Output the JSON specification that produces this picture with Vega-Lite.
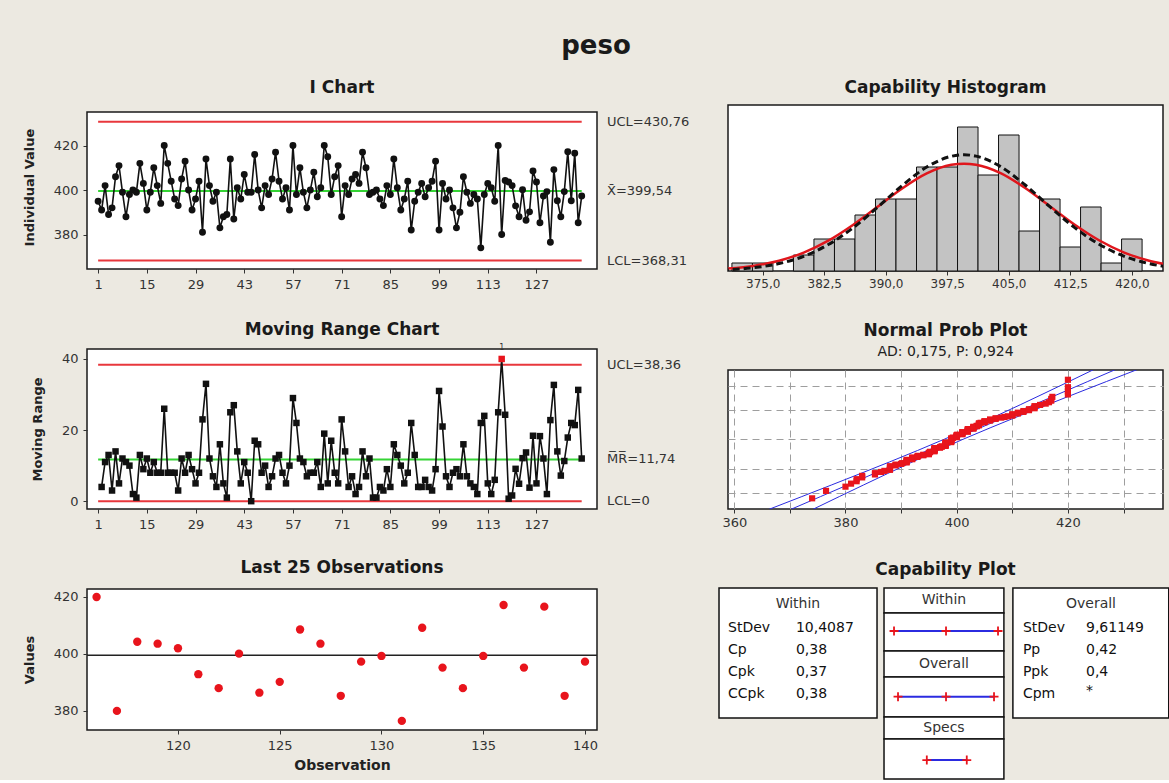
{
  "$schema": "https://vega.github.io/schema/vega-lite/v6.json",
  "background": "#ECE9E1",
  "padding": {"left": 22, "top": 33, "right": 0, "bottom": 0},
  "title": {"text": "peso", "fontSize": 26, "offset": 19, "anchor": "middle"},
  "datasets": {
    "main": [
      {"obs":1,"value":395,"mr":null},{"obs":2,"value":391,"mr":4},{"obs":3,"value":402,"mr":11},{"obs":4,"value":389,"mr":13},{"obs":5,"value":392,"mr":3},
      {"obs":6,"value":406,"mr":14},{"obs":7,"value":411,"mr":5},{"obs":8,"value":399,"mr":12},{"obs":9,"value":388,"mr":11},{"obs":10,"value":398,"mr":10},
      {"obs":11,"value":400,"mr":2},{"obs":12,"value":399,"mr":1},{"obs":13,"value":412,"mr":13},{"obs":14,"value":403,"mr":9},{"obs":15,"value":391,"mr":12},
      {"obs":16,"value":399,"mr":8},{"obs":17,"value":410,"mr":11},{"obs":18,"value":402,"mr":8},{"obs":19,"value":394,"mr":8},{"obs":20,"value":420,"mr":26},
      {"obs":21,"value":412,"mr":8},{"obs":22,"value":404,"mr":8},{"obs":23,"value":396,"mr":8},{"obs":24,"value":393,"mr":3},{"obs":25,"value":405,"mr":12},
      {"obs":26,"value":413,"mr":8},{"obs":27,"value":400,"mr":13},{"obs":28,"value":391,"mr":9},{"obs":29,"value":396,"mr":5},{"obs":30,"value":404,"mr":8},
      {"obs":31,"value":381,"mr":23},{"obs":32,"value":414,"mr":33},{"obs":33,"value":402,"mr":12},{"obs":34,"value":395,"mr":7},{"obs":35,"value":399,"mr":4},
      {"obs":36,"value":383,"mr":16},{"obs":37,"value":388,"mr":5},{"obs":38,"value":389,"mr":1},{"obs":39,"value":414,"mr":25},{"obs":40,"value":387,"mr":27},
      {"obs":41,"value":401,"mr":14},{"obs":42,"value":396,"mr":5},{"obs":43,"value":407,"mr":11},{"obs":44,"value":399,"mr":8},{"obs":45,"value":399,"mr":0},
      {"obs":46,"value":416,"mr":17},{"obs":47,"value":400,"mr":16},{"obs":48,"value":392,"mr":8},{"obs":49,"value":402,"mr":10},{"obs":50,"value":398,"mr":4},
      {"obs":51,"value":405,"mr":7},{"obs":52,"value":417,"mr":12},{"obs":53,"value":404,"mr":13},{"obs":54,"value":396,"mr":8},{"obs":55,"value":401,"mr":5},
      {"obs":56,"value":391,"mr":10},{"obs":57,"value":420,"mr":29},{"obs":58,"value":398,"mr":22},{"obs":59,"value":410,"mr":12},{"obs":60,"value":399,"mr":11},
      {"obs":61,"value":392,"mr":7},{"obs":62,"value":400,"mr":8},{"obs":63,"value":408,"mr":8},{"obs":64,"value":397,"mr":11},{"obs":65,"value":401,"mr":4},
      {"obs":66,"value":420,"mr":19},{"obs":67,"value":415,"mr":5},{"obs":68,"value":398,"mr":17},{"obs":69,"value":406,"mr":8},{"obs":70,"value":411,"mr":5},
      {"obs":71,"value":388,"mr":23},{"obs":72,"value":402,"mr":14},{"obs":73,"value":398,"mr":4},{"obs":74,"value":405,"mr":7},{"obs":75,"value":407,"mr":2},
      {"obs":76,"value":403,"mr":4},{"obs":77,"value":417,"mr":14},{"obs":78,"value":410,"mr":7},{"obs":79,"value":398,"mr":12},{"obs":80,"value":399,"mr":1},
      {"obs":81,"value":400,"mr":1},{"obs":82,"value":396,"mr":4},{"obs":83,"value":393,"mr":3},{"obs":84,"value":402,"mr":9},{"obs":85,"value":398,"mr":4},
      {"obs":86,"value":414,"mr":16},{"obs":87,"value":401,"mr":13},{"obs":88,"value":391,"mr":10},{"obs":89,"value":396,"mr":5},{"obs":90,"value":404,"mr":8},
      {"obs":91,"value":382,"mr":22},{"obs":92,"value":395,"mr":13},{"obs":93,"value":399,"mr":4},{"obs":94,"value":403,"mr":4},{"obs":95,"value":397,"mr":6},
      {"obs":96,"value":401,"mr":4},{"obs":97,"value":404,"mr":3},{"obs":98,"value":413,"mr":9},{"obs":99,"value":382,"mr":31},{"obs":100,"value":403,"mr":21},
      {"obs":101,"value":396,"mr":7},{"obs":102,"value":400,"mr":4},{"obs":103,"value":392,"mr":8},{"obs":104,"value":383,"mr":9},{"obs":105,"value":390,"mr":7},
      {"obs":106,"value":406,"mr":16},{"obs":107,"value":399,"mr":7},{"obs":108,"value":394,"mr":5},{"obs":109,"value":398,"mr":4},{"obs":110,"value":396,"mr":2},
      {"obs":111,"value":374,"mr":22},{"obs":112,"value":398,"mr":24},{"obs":113,"value":403,"mr":5},{"obs":114,"value":401,"mr":2},{"obs":115,"value":395,"mr":6},
      {"obs":116,"value":420,"mr":25},{"obs":117,"value":380,"mr":40},{"obs":118,"value":404.3,"mr":24.3},{"obs":119,"value":403.6,"mr":0.7},{"obs":120,"value":402,"mr":1.6},
      {"obs":121,"value":392.9,"mr":9.1},{"obs":122,"value":388,"mr":4.9},{"obs":123,"value":400.1,"mr":12.1},{"obs":124,"value":386.4,"mr":13.7},{"obs":125,"value":390.2,"mr":3.8},
      {"obs":126,"value":408.6,"mr":18.4},{"obs":127,"value":403.6,"mr":5},{"obs":128,"value":385.3,"mr":18.3},{"obs":129,"value":397.3,"mr":12},{"obs":130,"value":399.3,"mr":2},
      {"obs":131,"value":376.5,"mr":22.8},{"obs":132,"value":409.2,"mr":32.7},{"obs":133,"value":395.2,"mr":14},{"obs":134,"value":388,"mr":7.2},{"obs":135,"value":399.3,"mr":11.3},
      {"obs":136,"value":417.2,"mr":17.9},{"obs":137,"value":395.2,"mr":22},{"obs":138,"value":416.6,"mr":21.4},{"obs":139,"value":385.3,"mr":31.3},{"obs":140,"value":397.3,"mr":12}
    ],
    "limits": [
      {"chart":"I","kind":"limit","y":430.76,"label":"UCL=430,76"},
      {"chart":"I","kind":"center","y":399.54,"label":"X\u0304=399,54"},
      {"chart":"I","kind":"limit","y":368.31,"label":"LCL=368,31"},
      {"chart":"MR","kind":"limit","y":38.36,"label":"UCL=38,36"},
      {"chart":"MR","kind":"center","y":11.74,"label":"M\u0305R\u0305=11,74"},
      {"chart":"MR","kind":"limit","y":0,"label":"LCL=0"},
      {"chart":"L","kind":"center","y":399.54,"label":""}
    ],
    "hist": [
      {"lo":371.25,"hi":373.75,"n":1},{"lo":373.75,"hi":376.25,"n":1},{"lo":378.75,"hi":381.25,"n":2},
      {"lo":381.25,"hi":383.75,"n":4},{"lo":383.75,"hi":386.25,"n":4},{"lo":386.25,"hi":388.75,"n":7},
      {"lo":388.75,"hi":391.25,"n":9},{"lo":391.25,"hi":393.75,"n":9},{"lo":393.75,"hi":396.25,"n":13},
      {"lo":396.25,"hi":398.75,"n":13},{"lo":398.75,"hi":401.25,"n":18},{"lo":401.25,"hi":403.75,"n":12},
      {"lo":403.75,"hi":406.25,"n":17},{"lo":406.25,"hi":408.75,"n":5},{"lo":408.75,"hi":411.25,"n":9},
      {"lo":411.25,"hi":413.75,"n":3},{"lo":413.75,"hi":416.25,"n":8},{"lo":416.25,"hi":418.75,"n":1},
      {"lo":418.75,"hi":421.25,"n":4}
    ],
    "curves": [
      {"fit":"Within","x":370,"y":0.239},{"fit":"Within","x":374,"y":0.661},{"fit":"Within","x":377,"y":1.286},{"fit":"Within","x":380,"y":2.303},
      {"fit":"Within","x":383,"y":3.795},{"fit":"Within","x":386,"y":5.757},{"fit":"Within","x":389,"y":8.034},{"fit":"Within","x":392,"y":10.319},
      {"fit":"Within","x":395,"y":12.198},{"fit":"Within","x":398,"y":13.269},{"fit":"Within","x":399.54,"y":13.415},{"fit":"Within","x":401,"y":13.284},
      {"fit":"Within","x":404,"y":12.239},{"fit":"Within","x":407,"y":10.377},{"fit":"Within","x":410,"y":8.097},{"fit":"Within","x":413,"y":5.814},
      {"fit":"Within","x":416,"y":3.842},{"fit":"Within","x":419,"y":2.337},{"fit":"Within","x":422,"y":1.308},{"fit":"Within","x":424,"y":0.848},
      {"fit":"Overall","x":370,"y":0.129},{"fit":"Overall","x":374,"y":0.425},{"fit":"Overall","x":377,"y":0.929},{"fit":"Overall","x":380,"y":1.839},
      {"fit":"Overall","x":383,"y":3.305},{"fit":"Overall","x":386,"y":5.385},{"fit":"Overall","x":389,"y":7.962},{"fit":"Overall","x":392,"y":10.68},
      {"fit":"Overall","x":395,"y":12.993},{"fit":"Overall","x":398,"y":14.342},{"fit":"Overall","x":399.54,"y":14.527},{"fit":"Overall","x":401,"y":14.36},
      {"fit":"Overall","x":404,"y":13.044},{"fit":"Overall","x":407,"y":10.749},{"fit":"Overall","x":410,"y":8.035},{"fit":"Overall","x":413,"y":5.449},
      {"fit":"Overall","x":416,"y":3.353},{"fit":"Overall","x":419,"y":1.871},{"fit":"Overall","x":422,"y":0.947},{"fit":"Overall","x":424,"y":0.57}
    ],
    "problines": [
      {"band":"lo","z":-3.2,"v":364.69},{"band":"lo","z":-2.5,"v":372.15},{"band":"lo","z":-2,"v":377.44},{"band":"lo","z":-1.5,"v":382.69},{"band":"lo","z":-1,"v":387.87},{"band":"lo","z":-0.5,"v":392.94},{"band":"lo","z":0,"v":397.84},{"band":"lo","z":0.5,"v":402.55},{"band":"lo","z":1,"v":407.09},{"band":"lo","z":1.5,"v":411.52},{"band":"lo","z":2,"v":415.88},{"band":"lo","z":2.5,"v":420.2},{"band":"lo","z":3.2,"v":426.19},
      {"band":"fit","z":-3.2,"v":368.79},{"band":"fit","z":-2.5,"v":375.52},{"band":"fit","z":-2,"v":380.32},{"band":"fit","z":-1.5,"v":385.13},{"band":"fit","z":-1,"v":389.93},{"band":"fit","z":-0.5,"v":394.74},{"band":"fit","z":0,"v":399.54},{"band":"fit","z":0.5,"v":404.35},{"band":"fit","z":1,"v":409.15},{"band":"fit","z":1.5,"v":413.96},{"band":"fit","z":2,"v":418.76},{"band":"fit","z":2.5,"v":423.57},{"band":"fit","z":3.2,"v":430.29},
      {"band":"hi","z":-3.2,"v":372.89},{"band":"hi","z":-2.5,"v":378.89},{"band":"hi","z":-2,"v":383.21},{"band":"hi","z":-1.5,"v":387.57},{"band":"hi","z":-1,"v":391.99},{"band":"hi","z":-0.5,"v":396.54},{"band":"hi","z":0,"v":401.24},{"band":"hi","z":0.5,"v":406.15},{"band":"hi","z":1,"v":411.21},{"band":"hi","z":1.5,"v":416.4},{"band":"hi","z":2,"v":421.65},{"band":"hi","z":2.5,"v":426.94},{"band":"hi","z":3.2,"v":434.39}
    ],
    "probpts": [
      {"v":374,"z":-2.576},{"v":376.5,"z":-2.253},{"v":380,"z":-2.07},{"v":381,"z":-1.938},{"v":382,"z":-1.833},{"v":382,"z":-1.744},{"v":383,"z":-1.668},{"v":383,"z":-1.6},
      {"v":385.3,"z":-1.539},{"v":385.3,"z":-1.482},{"v":386.4,"z":-1.43},{"v":387,"z":-1.383},{"v":388,"z":-1.338},{"v":388,"z":-1.296},{"v":388,"z":-1.255},{"v":388,"z":-1.217},
      {"v":388,"z":-1.18},{"v":389,"z":-1.145},{"v":389,"z":-1.111},{"v":390,"z":-1.079},{"v":390.2,"z":-1.047},{"v":391,"z":-1.017},{"v":391,"z":-0.988},{"v":391,"z":-0.959},
      {"v":391,"z":-0.931},{"v":391,"z":-0.904},{"v":392,"z":-0.877},{"v":392,"z":-0.851},{"v":392,"z":-0.826},{"v":392,"z":-0.801},{"v":392.9,"z":-0.777},{"v":393,"z":-0.753},
      {"v":393,"z":-0.729},{"v":394,"z":-0.706},{"v":394,"z":-0.683},{"v":395,"z":-0.661},{"v":395,"z":-0.639},{"v":395,"z":-0.617},{"v":395,"z":-0.596},{"v":395.2,"z":-0.574},
      {"v":395.2,"z":-0.554},{"v":396,"z":-0.533},{"v":396,"z":-0.512},{"v":396,"z":-0.492},{"v":396,"z":-0.472},{"v":396,"z":-0.452},{"v":396,"z":-0.432},{"v":396,"z":-0.413},
      {"v":396,"z":-0.394},{"v":397,"z":-0.374},{"v":397,"z":-0.355},{"v":397.3,"z":-0.336},{"v":397.3,"z":-0.318},{"v":398,"z":-0.299},{"v":398,"z":-0.28},{"v":398,"z":-0.262},
      {"v":398,"z":-0.244},{"v":398,"z":-0.225},{"v":398,"z":-0.207},{"v":398,"z":-0.189},{"v":398,"z":-0.171},{"v":398,"z":-0.153},{"v":399,"z":-0.134},{"v":399,"z":-0.116},
      {"v":399,"z":-0.098},{"v":399,"z":-0.08},{"v":399,"z":-0.063},{"v":399,"z":-0.045},{"v":399,"z":-0.027},{"v":399,"z":-0.009},{"v":399,"z":0.009},{"v":399,"z":0.027},
      {"v":399.3,"z":0.045},{"v":399.3,"z":0.063},{"v":400,"z":0.08},{"v":400,"z":0.098},{"v":400,"z":0.116},{"v":400,"z":0.134},{"v":400,"z":0.153},{"v":400,"z":0.171},
      {"v":400.1,"z":0.189},{"v":401,"z":0.207},{"v":401,"z":0.225},{"v":401,"z":0.244},{"v":401,"z":0.262},{"v":401,"z":0.28},{"v":401,"z":0.299},{"v":402,"z":0.318},
      {"v":402,"z":0.336},{"v":402,"z":0.355},{"v":402,"z":0.374},{"v":402,"z":0.394},{"v":402,"z":0.413},{"v":402,"z":0.432},{"v":403,"z":0.452},{"v":403,"z":0.472},
      {"v":403,"z":0.492},{"v":403,"z":0.512},{"v":403,"z":0.533},{"v":403.6,"z":0.554},{"v":403.6,"z":0.574},{"v":404,"z":0.596},{"v":404,"z":0.617},{"v":404,"z":0.639},
      {"v":404,"z":0.661},{"v":404,"z":0.683},{"v":404.3,"z":0.706},{"v":405,"z":0.729},{"v":405,"z":0.753},{"v":405,"z":0.777},{"v":406,"z":0.801},{"v":406,"z":0.826},
      {"v":406,"z":0.851},{"v":407,"z":0.877},{"v":407,"z":0.904},{"v":408,"z":0.931},{"v":408.6,"z":0.959},{"v":409.2,"z":0.988},{"v":410,"z":1.017},{"v":410,"z":1.047},
      {"v":410,"z":1.079},{"v":411,"z":1.111},{"v":411,"z":1.145},{"v":412,"z":1.18},{"v":412,"z":1.217},{"v":413,"z":1.255},{"v":413,"z":1.296},{"v":414,"z":1.338},
      {"v":414,"z":1.383},{"v":414,"z":1.43},{"v":415,"z":1.482},{"v":416,"z":1.539},{"v":416.6,"z":1.6},{"v":417,"z":1.668},{"v":417,"z":1.744},{"v":417.2,"z":1.833},
      {"v":420,"z":1.938},{"v":420,"z":2.07},{"v":420,"z":2.253},{"v":420,"z":2.576}
    ],
    "capboxes": [
      {"x1":263.2,"x2":358.1,"y1":32.3,"y2":100},
      {"x1":439.7,"x2":533.3,"y1":32.3,"y2":100},
      {"x1":362.3,"x2":434.3,"y1":87,"y2":100},
      {"x1":362.3,"x2":434.3,"y1":67.2,"y2":87},
      {"x1":362.3,"x2":434.3,"y1":53.6,"y2":67.2},
      {"x1":362.3,"x2":434.3,"y1":32.8,"y2":53.6},
      {"x1":362.3,"x2":434.3,"y1":21.4,"y2":32.8},
      {"x1":362.3,"x2":434.3,"y1":0.5,"y2":21.4}
    ],
    "captext": [
      {"a":"c","x":310.6,"y":91.7,"t":"Within"},
      {"a":"c","x":486.6,"y":91.7,"t":"Overall"},
      {"a":"c","x":398.3,"y":93.6,"t":"Within"},
      {"a":"c","x":398.3,"y":60.4,"t":"Overall"},
      {"a":"c","x":398.3,"y":27.1,"t":"Specs"},
      {"a":"l","x":268.6,"y":79.2,"t":"StDev"},{"a":"l","x":309.4,"y":79.2,"t":"10,4087"},
      {"a":"l","x":268.6,"y":67.7,"t":"Cp"},{"a":"l","x":309.4,"y":67.7,"t":"0,38"},
      {"a":"l","x":268.6,"y":56.3,"t":"Cpk"},{"a":"l","x":309.4,"y":56.3,"t":"0,37"},
      {"a":"l","x":268.6,"y":44.8,"t":"CCpk"},{"a":"l","x":309.4,"y":44.8,"t":"0,38"},
      {"a":"l","x":445.7,"y":79.2,"t":"StDev"},{"a":"l","x":483.6,"y":79.2,"t":"9,61149"},
      {"a":"l","x":445.7,"y":67.7,"t":"Pp"},{"a":"l","x":483.6,"y":67.7,"t":"0,42"},
      {"a":"l","x":445.7,"y":56.3,"t":"Ppk"},{"a":"l","x":483.6,"y":56.3,"t":"0,4"},
      {"a":"l","x":445.7,"y":44.8,"t":"Cpm"},{"a":"l","x":483.6,"y":46.5,"t":"*"}
    ],
    "capint": [
      {"x1":368.31,"x2":430.77,"y":77.6},
      {"x1":370.71,"x2":428.37,"y":43.4},
      {"x1":388,"x2":412,"y":10.4}
    ],
    "capplus": [
      {"x":368.31,"y":77.6},{"x":399.54,"y":77.6},{"x":430.77,"y":77.6},
      {"x":370.71,"y":43.4},{"x":399.54,"y":43.4},{"x":428.37,"y":43.4},
      {"x":388,"y":10.4},{"x":412,"y":10.4}
    ]
  },
  "spacing": 28,
  "hconcat": [
    {
      "vconcat": [
        {
          "width": 510, "height": 164,
          "title": {"text": "I Chart", "offset": 8},
          "view": {"stroke": null, "fill": null},
          "layer": [
            {"data": {"values": [{}]},
             "mark": {"type": "rect", "fill": "white", "stroke": "#1a1a1a", "strokeWidth": 1.5},
             "encoding": {
               "x": {"datum": -2.2, "type": "quantitative", "scale": {"domain": [-2.2, 144.4], "nice": false, "zero": false}, "axis": {"values": [1, 15, 29, 43, 57, 71, 85, 99, 113, 127], "title": null}},
               "x2": {"datum": 144.4},
               "y": {"datum": 364.5, "type": "quantitative", "scale": {"domain": [364.5, 438.25], "nice": false, "zero": false}, "axis": {"values": [380, 400, 420], "title": "Individual Value"}},
               "y2": {"datum": 435.1}}},
            {"data": {"name": "limits"}, "transform": [{"filter": "datum.chart === 'I'"}],
             "mark": {"type": "rule", "strokeWidth": 2},
             "encoding": {
               "x": {"datum": 1, "type": "quantitative", "scale": {"domain": [-2.2, 144.4], "nice": false, "zero": false}, "axis": {"values": [1, 15, 29, 43, 57, 71, 85, 99, 113, 127], "title": null}},
               "x2": {"datum": 140},
               "y": {"field": "y", "type": "quantitative", "scale": {"domain": [364.5, 438.25], "nice": false, "zero": false}, "axis": {"values": [380, 400, 420], "title": "Individual Value"}},
               "color": {"field": "kind", "type": "nominal", "scale": {"domain": ["limit", "center"], "range": ["#E8373C", "#35D435"]}, "legend": null}}},
            {"data": {"name": "main"},
             "mark": {"type": "line", "color": "#111111", "strokeWidth": 1.6},
             "encoding": {
               "x": {"field": "obs", "type": "quantitative", "scale": {"domain": [-2.2, 144.4], "nice": false, "zero": false}, "axis": {"values": [1, 15, 29, 43, 57, 71, 85, 99, 113, 127], "title": null}},
               "y": {"field": "value", "type": "quantitative", "scale": {"domain": [364.5, 438.25], "nice": false, "zero": false}, "axis": {"values": [380, 400, 420], "title": "Individual Value"}}}},
            {"data": {"name": "main"},
             "mark": {"type": "point", "shape": "circle", "filled": true, "color": "#111111", "size": 48, "opacity": 1},
             "encoding": {
               "x": {"field": "obs", "type": "quantitative", "scale": {"domain": [-2.2, 144.4], "nice": false, "zero": false}, "axis": {"values": [1, 15, 29, 43, 57, 71, 85, 99, 113, 127], "title": null}},
               "y": {"field": "value", "type": "quantitative", "scale": {"domain": [364.5, 438.25], "nice": false, "zero": false}, "axis": {"values": [380, 400, 420], "title": "Individual Value"}}}},
            {"data": {"name": "limits"}, "transform": [{"filter": "datum.chart === 'I'"}],
             "mark": {"type": "text", "align": "left", "baseline": "middle", "dx": 10, "fontSize": 13, "color": "#333333"},
             "encoding": {
               "x": {"datum": 144.4, "type": "quantitative", "scale": {"domain": [-2.2, 144.4], "nice": false, "zero": false}, "axis": {"values": [1, 15, 29, 43, 57, 71, 85, 99, 113, 127], "title": null}},
               "y": {"field": "y", "type": "quantitative", "scale": {"domain": [364.5, 438.25], "nice": false, "zero": false}, "axis": {"values": [380, 400, 420], "title": "Individual Value"}},
               "text": {"field": "label"}}}
          ]
        },
        {
          "width": 510, "height": 160,
          "title": {"text": "Moving Range Chart", "offset": 5},
          "layer": [
            {"data": {"name": "limits"}, "transform": [{"filter": "datum.chart === 'MR'"}],
             "mark": {"type": "rule", "strokeWidth": 2},
             "encoding": {
               "x": {"datum": 1, "type": "quantitative", "scale": {"domain": [-2.2, 144.4], "nice": false, "zero": false}, "axis": {"values": [1, 15, 29, 43, 57, 71, 85, 99, 113, 127], "title": null}},
               "x2": {"datum": 140},
               "y": {"field": "y", "type": "quantitative", "scale": {"domain": [-2.2, 42.8], "nice": false, "zero": false}, "axis": {"values": [0, 20, 40], "title": "Moving Range"}},
               "color": {"field": "kind", "type": "nominal", "scale": {"domain": ["limit", "center"], "range": ["#E8373C", "#35D435"]}, "legend": null}}},
            {"data": {"name": "main"}, "transform": [{"filter": "datum.mr != null"}],
             "mark": {"type": "line", "color": "#111111", "strokeWidth": 1.6},
             "encoding": {
               "x": {"field": "obs", "type": "quantitative", "scale": {"domain": [-2.2, 144.4], "nice": false, "zero": false}, "axis": {"values": [1, 15, 29, 43, 57, 71, 85, 99, 113, 127], "title": null}},
               "y": {"field": "mr", "type": "quantitative", "scale": {"domain": [-2.2, 42.8], "nice": false, "zero": false}, "axis": {"values": [0, 20, 40], "title": "Moving Range"}}}},
            {"data": {"name": "main"}, "transform": [{"filter": "datum.mr != null"}],
             "mark": {"type": "point", "shape": "square", "filled": true, "size": 42, "opacity": 1},
             "encoding": {
               "x": {"field": "obs", "type": "quantitative", "scale": {"domain": [-2.2, 144.4], "nice": false, "zero": false}, "axis": {"values": [1, 15, 29, 43, 57, 71, 85, 99, 113, 127], "title": null}},
               "y": {"field": "mr", "type": "quantitative", "scale": {"domain": [-2.2, 42.8], "nice": false, "zero": false}, "axis": {"values": [0, 20, 40], "title": "Moving Range"}},
               "color": {"condition": {"test": "datum.mr > 38.36", "value": "#E8141C"}, "value": "#111111"}}},
            {"data": {"name": "main"}, "transform": [{"filter": "datum.mr > 38.36"}],
             "mark": {"type": "text", "fontSize": 8, "dy": -11, "color": "#333333"},
             "encoding": {
               "x": {"field": "obs", "type": "quantitative", "scale": {"domain": [-2.2, 144.4], "nice": false, "zero": false}, "axis": {"values": [1, 15, 29, 43, 57, 71, 85, 99, 113, 127], "title": null}},
               "y": {"field": "mr", "type": "quantitative", "scale": {"domain": [-2.2, 42.8], "nice": false, "zero": false}, "axis": {"values": [0, 20, 40], "title": "Moving Range"}},
               "text": {"value": "1"}}},
            {"data": {"name": "limits"}, "transform": [{"filter": "datum.chart === 'MR'"}],
             "mark": {"type": "text", "align": "left", "baseline": "middle", "dx": 10, "fontSize": 13, "color": "#333333"},
             "encoding": {
               "x": {"datum": 144.4, "type": "quantitative", "scale": {"domain": [-2.2, 144.4], "nice": false, "zero": false}, "axis": {"values": [1, 15, 29, 43, 57, 71, 85, 99, 113, 127], "title": null}},
               "y": {"field": "y", "type": "quantitative", "scale": {"domain": [-2.2, 42.8], "nice": false, "zero": false}, "axis": {"values": [0, 20, 40], "title": "Moving Range"}},
               "text": {"field": "label"}}}
          ]
        },
        {
          "width": 510, "height": 141,
          "title": {"text": "Last 25 Observations", "offset": 12},
          "layer": [
            {"data": {"name": "limits"}, "transform": [{"filter": "datum.chart === 'L'"}],
             "mark": {"type": "rule", "strokeWidth": 1.5, "color": "#222222"},
             "encoding": {
               "y": {"field": "y", "type": "quantitative", "scale": {"domain": [373.3, 422.8], "nice": false, "zero": false}, "axis": {"values": [380, 400, 420], "title": "Values"}}}},
            {"data": {"name": "main"}, "transform": [{"filter": "datum.obs >= 116"}],
             "mark": {"type": "point", "shape": "circle", "filled": true, "color": "#E8141C", "size": 70, "opacity": 1},
             "encoding": {
               "x": {"field": "obs", "type": "quantitative", "scale": {"domain": [115.53, 140.59], "nice": false, "zero": false}, "axis": {"values": [120, 125, 130, 135, 140], "title": "Observation", "titleFontSize": 14, "titlePadding": 6}},
               "y": {"field": "value", "type": "quantitative", "scale": {"domain": [373.3, 422.8], "nice": false, "zero": false}, "axis": {"values": [380, 400, 420], "title": "Values"}}}}
          ]
        }
      ],
      "spacing": 80,
      "bounds": "flush"
    },
    {
      "vconcat": [
        {
          "width": 435, "height": 166,
          "title": {"text": "Capability Histogram", "offset": 8},
          "layer": [
            {"data": {"name": "hist"},
             "mark": {"type": "rect", "fill": "#C3C3C3", "stroke": "#111111", "strokeWidth": 1},
             "encoding": {
               "x": {"field": "lo", "type": "quantitative", "scale": {"domain": [370.77, 423.8], "nice": false, "zero": false}, "axis": {"values": [375, 382.5, 390, 397.5, 405, 412.5, 420], "format": ".1f", "title": null, "labelFontSize": 12, "labelPadding": 3}},
               "x2": {"field": "hi"},
               "y": {"field": "n", "type": "quantitative", "scale": {"domain": [0, 20.75], "nice": false, "zero": false}, "axis": null},
               "y2": {"datum": 0}}},
            {"data": {"name": "curves"}, "transform": [{"filter": "datum.fit === 'Within'"}],
             "mark": {"type": "line", "color": "#E0161C", "strokeWidth": 2.5, "interpolate": "monotone", "clip": true},
             "encoding": {
               "x": {"field": "x", "type": "quantitative", "scale": {"domain": [370.77, 423.8], "nice": false, "zero": false}, "axis": {"values": [375, 382.5, 390, 397.5, 405, 412.5, 420], "format": ".1f", "title": null, "labelFontSize": 12, "labelPadding": 3}},
               "y": {"field": "y", "type": "quantitative", "scale": {"domain": [0, 20.75], "nice": false, "zero": false}, "axis": null}}},
            {"data": {"name": "curves"}, "transform": [{"filter": "datum.fit === 'Overall'"}],
             "mark": {"type": "line", "color": "#111111", "strokeWidth": 3, "strokeDash": [7, 4], "interpolate": "monotone", "clip": true},
             "encoding": {
               "x": {"field": "x", "type": "quantitative", "scale": {"domain": [370.77, 423.8], "nice": false, "zero": false}, "axis": {"values": [375, 382.5, 390, 397.5, 405, 412.5, 420], "format": ".1f", "title": null, "labelFontSize": 12, "labelPadding": 3}},
               "y": {"field": "y", "type": "quantitative", "scale": {"domain": [0, 20.75], "nice": false, "zero": false}, "axis": null}}}
          ]
        },
        {
          "width": 435, "height": 139,
          "title": {"text": "Normal Prob Plot", "subtitle": "AD: 0,175, P: 0,924", "subtitleFontSize": 14, "subtitleColor": "#222222", "subtitlePadding": 5, "offset": 10},
          "layer": [
            {"data": {"name": "problines"},
             "mark": {"type": "line", "color": "#2B2BE0", "strokeWidth": 1, "clip": true},
             "encoding": {
               "x": {"field": "v", "type": "quantitative", "scale": {"domain": [358.87, 437.1], "nice": false, "zero": false},
                     "axis": {"values": [360, 370, 380, 390, 400, 410, 420, 430], "labelExpr": "datum.value % 20 === 0 ? datum.label : ''", "grid": true, "gridDash": [7, 5], "gridColor": "#9E9E9E", "title": null, "labelPadding": 3}},
               "y": {"field": "z", "type": "quantitative", "scale": {"domain": [-3.04, 3.0], "nice": false, "zero": false},
                     "axis": {"values": [-2.3263, -1.2816, 0, 1.2816, 2.3263], "labels": false, "ticks": false, "grid": true, "gridDash": [7, 5], "gridColor": "#9E9E9E", "title": null}},
               "detail": {"field": "band"},
               "order": {"field": "z", "type": "quantitative"}}},
            {"data": {"name": "probpts"},
             "mark": {"type": "point", "shape": "square", "filled": true, "color": "#E8141C", "size": 38, "opacity": 1},
             "encoding": {
               "x": {"field": "v", "type": "quantitative", "scale": {"domain": [358.87, 437.1], "nice": false, "zero": false},
                     "axis": {"values": [360, 370, 380, 390, 400, 410, 420, 430], "labelExpr": "datum.value % 20 === 0 ? datum.label : ''", "grid": true, "gridDash": [7, 5], "gridColor": "#9E9E9E", "title": null, "labelPadding": 3}},
               "y": {"field": "z", "type": "quantitative", "scale": {"domain": [-3.04, 3.0], "nice": false, "zero": false},
                     "axis": {"values": [-2.3263, -1.2816, 0, 1.2816, 2.3263], "labels": false, "ticks": false, "grid": true, "gridDash": [7, 5], "gridColor": "#9E9E9E", "title": null}}}}
          ]
        },
        {
          "width": 435, "height": 192,
          "title": {"text": "Capability Plot", "offset": 8},
          "view": {"stroke": null, "fill": null},
          "layer": [
            {"data": {"name": "capboxes"},
             "mark": {"type": "rect", "fill": "white", "stroke": "#111111", "strokeWidth": 1.5},
             "encoding": {
               "x": {"field": "x1", "type": "quantitative", "scale": {"domain": [268.6, 529.85], "nice": false, "zero": false}, "axis": null},
               "x2": {"field": "x2"},
               "y": {"field": "y1", "type": "quantitative", "scale": {"domain": [0, 100], "nice": false, "zero": false}, "axis": null},
               "y2": {"field": "y2"}}},
            {"data": {"name": "capint"},
             "mark": {"type": "rule", "color": "#2B2BE0", "strokeWidth": 2},
             "encoding": {
               "x": {"field": "x1", "type": "quantitative", "scale": {"domain": [268.6, 529.85], "nice": false, "zero": false}, "axis": null},
               "x2": {"field": "x2"},
               "y": {"field": "y", "type": "quantitative", "scale": {"domain": [0, 100], "nice": false, "zero": false}, "axis": null}}},
            {"data": {"name": "capplus"},
             "mark": {"type": "point", "shape": "M0,-1L0,1M-1,0L1,0", "filled": false, "stroke": "#E8141C", "strokeWidth": 1.8, "size": 80, "opacity": 1},
             "encoding": {
               "x": {"field": "x", "type": "quantitative", "scale": {"domain": [268.6, 529.85], "nice": false, "zero": false}, "axis": null},
               "y": {"field": "y", "type": "quantitative", "scale": {"domain": [0, 100], "nice": false, "zero": false}, "axis": null}}},
            {"data": {"name": "captext"}, "transform": [{"filter": "datum.a === 'c'"}],
             "mark": {"type": "text", "align": "center", "baseline": "middle", "fontSize": 14, "color": "#333333"},
             "encoding": {
               "x": {"field": "x", "type": "quantitative", "scale": {"domain": [268.6, 529.85], "nice": false, "zero": false}, "axis": null},
               "y": {"field": "y", "type": "quantitative", "scale": {"domain": [0, 100], "nice": false, "zero": false}, "axis": null},
               "text": {"field": "t"}}},
            {"data": {"name": "captext"}, "transform": [{"filter": "datum.a === 'l'"}],
             "mark": {"type": "text", "align": "left", "baseline": "middle", "fontSize": 14, "color": "#111111"},
             "encoding": {
               "x": {"field": "x", "type": "quantitative", "scale": {"domain": [268.6, 529.85], "nice": false, "zero": false}, "axis": null},
               "y": {"field": "y", "type": "quantitative", "scale": {"domain": [0, 100], "nice": false, "zero": false}, "axis": null},
               "text": {"field": "t"}}}
          ]
        }
      ],
      "spacing": 31
    }
  ],
  "config": {
    "font": "DejaVu Sans",
    "locale": {"number": {"decimal": ",", "thousands": ".", "grouping": [3], "currency": ["", ""]}},
    "view": {"stroke": "#1a1a1a", "strokeWidth": 1.5, "fill": "white"},
    "axis": {"labelFont": "DejaVu Sans", "labelFontSize": 13, "labelColor": "#333333", "tickColor": "#333333", "domain": false, "grid": false, "tickSize": 4, "labelPadding": 5, "titleFont": "DejaVu Sans", "titleFontSize": 13, "titleFontWeight": "bold", "titleColor": "#222222", "titlePadding": 17},
    "title": {"font": "DejaVu Sans", "fontSize": 17, "fontWeight": "bold", "color": "#1a1a1a", "anchor": "middle"}
  }
}
